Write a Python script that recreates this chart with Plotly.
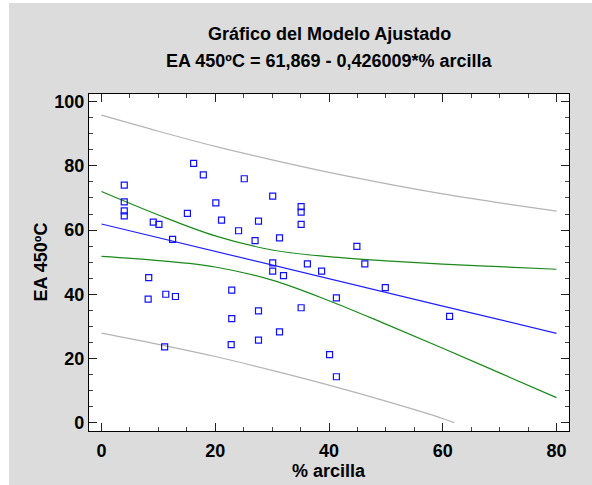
import plotly.graph_objects as go

# Observed data (% arcilla vs EA 450ºC)
clay = [4.0, 16.2, 17.9, 25.1, 30.1, 4.0, 20.1, 4.0, 4.0, 15.1, 21.1, 27.6, 9.1, 10.1, 24.1,
        27.0, 31.3, 12.5, 30.1, 30.1, 32.0, 8.3, 22.9, 8.2, 11.3, 13.0, 27.6, 22.9, 31.3, 11.1,
        22.8, 27.6, 35.1, 35.1, 35.1, 44.9, 36.2, 46.3, 38.7, 49.9, 41.3, 35.1, 61.2, 40.1, 41.3]
ea450 = [74.0, 80.8, 77.2, 76.0, 70.6, 68.8, 68.5, 66.0, 64.4, 65.2, 63.1, 62.8, 62.5, 61.8, 59.8,
         56.7, 57.6, 57.1, 49.8, 47.2, 45.8, 45.2, 41.3, 38.5, 40.0, 39.3, 34.8, 32.4, 28.3, 23.6,
         24.3, 25.7, 67.3, 65.6, 61.8, 54.9, 49.5, 49.5, 47.2, 42.1, 38.9, 35.8, 33.1, 21.2, 14.3]

# Fitted line and bands read at these x positions
band_x = [0, 10, 20, 30, 40, 50, 60, 70, 80]
fit_y = [61.9, 57.6, 53.4, 49.1, 44.8, 40.6, 36.3, 32.1, 27.8]
conf_upper = [72.0, 64.7, 58.2, 53.8, 51.7, 50.4, 49.4, 48.6, 47.8]
conf_lower = [51.8, 50.5, 48.5, 44.4, 38.0, 30.7, 23.2, 15.5, 7.8]
pred_upper = [95.8, 90.8, 86.1, 81.9, 78.0, 74.5, 71.3, 68.5, 65.9]
pred_lower_x = [0, 10, 20, 30, 40, 50, 60, 62]
pred_lower = [27.9, 24.4, 20.6, 16.3, 11.7, 6.7, 1.3, 0.0]

title_line1 = "Gráfico del Modelo Ajustado"
title_line2 = "EA 450ºC = 61,869 - 0,426009*% arcilla"
x_title = "% arcilla"
y_title = "EA 450ºC"

FONT = "Liberation Sans, Arial, sans-serif"
GRAY_BG = "#dcdcdc"

fig = go.Figure()
fig.add_trace(go.Scatter(x=band_x, y=pred_upper, mode="lines", line=dict(color="#b4b4b4", width=1.2, shape="spline"), hoverinfo="skip"))
fig.add_trace(go.Scatter(x=pred_lower_x, y=pred_lower, mode="lines", line=dict(color="#b4b4b4", width=1.2, shape="spline"), hoverinfo="skip"))
fig.add_trace(go.Scatter(x=band_x, y=conf_upper, mode="lines", line=dict(color="#1a8a1a", width=1.2, shape="spline"), hoverinfo="skip"))
fig.add_trace(go.Scatter(x=band_x, y=conf_lower, mode="lines", line=dict(color="#1a8a1a", width=1.2, shape="spline"), hoverinfo="skip"))
fig.add_trace(go.Scatter(x=band_x, y=fit_y, mode="lines", line=dict(color="#2020ff", width=1.2), hoverinfo="skip"))
fig.add_trace(go.Scatter(x=clay, y=ea450, mode="markers",
                         marker=dict(symbol="square-open", size=6, color="#1010ff", line=dict(width=1.2, color="#1010ff"))))

L, R, T, B = 89, 23, 94, 54
W, H = 592, 485
pw, ph = W - L - R, H - T - B

def px_x(p):
    return (p - L) / pw

def px_y(p):
    return (H - B - p) / ph

axis_common = dict(
    showgrid=False, zeroline=False, showline=True, linecolor="black", linewidth=1.3,
    mirror="ticks", ticks="inside", ticklen=8, tickwidth=1.3, tickcolor="#222",
    tickfont=dict(family=FONT, size=18, color="black", weight="bold"),
)

fig.update_layout(
    width=W, height=H, showlegend=False,
    margin=dict(l=L, r=R, t=T, b=B, autoexpand=False),
    paper_bgcolor=GRAY_BG, plot_bgcolor="white",
    xaxis=dict(range=[-2.2, 82.2], tickmode="array", tickvals=[0, 20, 40, 60, 80], ticklabelstandoff=3,
               minor=dict(dtick=5, tick0=0, ticks="inside", ticklen=4, tickcolor="#444", tickwidth=1.2),
               **axis_common),
    yaxis=dict(range=[-2.6, 102.4], tickmode="array", tickvals=[0, 20, 40, 60, 80, 100],
               minor=dict(dtick=5, tick0=0, ticks="inside", ticklen=4, tickcolor="#444", tickwidth=1.2),
               **axis_common),
    annotations=[
        dict(text=title_line1, x=0.5, y=px_y(34), xref="paper", yref="paper", showarrow=False,
             xanchor="center", yanchor="middle", font=dict(family=FONT, size=18, color="black", weight="bold")),
        dict(text=title_line2, x=0.5, y=px_y(61.5), xref="paper", yref="paper", showarrow=False,
             xanchor="center", yanchor="middle", font=dict(family=FONT, size=18, color="black", weight="bold")),
        dict(text=x_title, x=0.5, y=px_y(471), xref="paper", yref="paper", showarrow=False,
             xanchor="center", yanchor="middle", font=dict(family=FONT, size=18, color="black", weight="bold")),
        dict(text=y_title, x=px_x(40), y=0.5, xref="paper", yref="paper", showarrow=False, textangle=-90,
             xanchor="center", yanchor="middle", font=dict(family=FONT, size=18, color="black", weight="bold")),
    ],
    shapes=[
        dict(type="rect", xref="paper", yref="paper", x0=px_x(-1), x1=px_x(9), y0=px_y(H + 1), y1=px_y(-1),
             fillcolor="white", line=dict(width=0), layer="above"),
        dict(type="rect", xref="paper", yref="paper", x0=px_x(-1), x1=px_x(W + 1), y0=px_y(3), y1=px_y(-1),
             fillcolor="white", line=dict(width=0), layer="above"),
    ],
)

fig.write_html("out.html", config={"displayModeBar": False},
               post_script="document.body.style.margin='0px';")
